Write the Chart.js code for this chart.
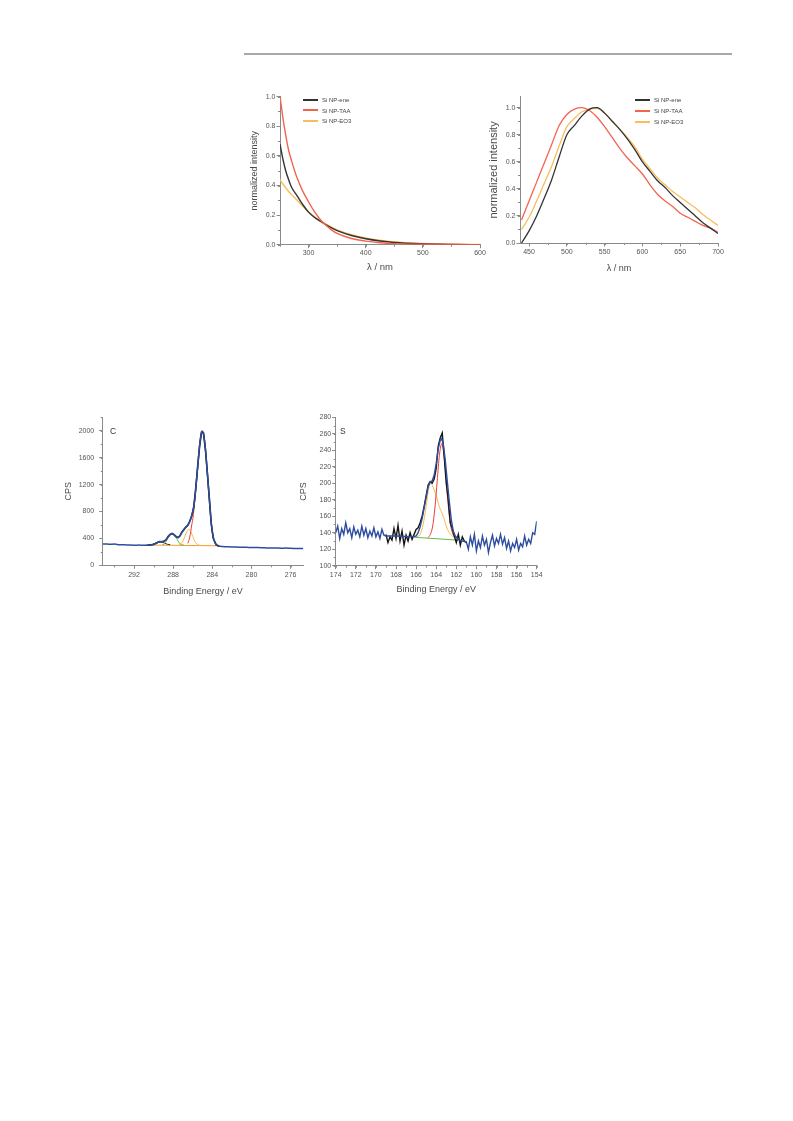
<!DOCTYPE html>
<html>
<head>
<meta charset="utf-8">
<script src="https://cdn.jsdelivr.net/npm/chart.js@4.4.1/dist/chart.umd.min.js"></script>
<style>
  body { margin: 0; background: #fff; width: 793px; height: 1121px; position: relative; overflow: hidden;
         font-family: 'Liberation Sans', Arial, sans-serif; }
  .panel { position: absolute; }
  .rule { position: absolute; left: 244px; top: 53px; width: 488px; height: 2px; background: #a9a9a9; }
  .lg { position: absolute; font-size: 6px; line-height: 10px; color: #444; white-space: nowrap; z-index: 5; }
  .lg .sw { display: inline-block; width: 15px; height: 2px; vertical-align: middle; margin-right: 4px; position: relative; top: -0.5px; }
  .tag { position: absolute; font-size: 8.5px; line-height: 10px; color: #333; z-index: 5; }
</style>
</head>
<body>
<div class="rule"></div>
<div class="panel" id="absBox"><canvas id="absChart"></canvas></div>
<div class="panel" id="plBox"><canvas id="plChart"></canvas></div>
<div class="panel" id="cBox"><canvas id="cChart"></canvas></div>
<div class="panel" id="sBox"><canvas id="sChart"></canvas></div>
<div class="tag" style="left:110px;top:425.5px">C</div>
<div class="tag" style="left:340px;top:425.5px">S</div>

<script>
const seriesNames = ['Si NP-ene', 'Si NP-TAA', 'Si NP-EO3'];
const seriesColors = ['#333333', '#f26450', '#f9bd5c'];

// --- absorption (top left) ---
const absXTicks = [300, 400, 500, 600];
const absYTicks = [0, 0.2, 0.4, 0.6, 0.8, 1.0];
const absWl  = [250, 255, 260, 265, 270, 280, 290, 300, 310, 320, 330, 340, 350, 375, 400, 425, 450, 500, 550, 600];
const absEne = [0.68, 0.58, 0.50, 0.44, 0.39, 0.33, 0.27, 0.22, 0.185, 0.16, 0.135, 0.113, 0.095, 0.062, 0.04, 0.025, 0.015, 0.006, 0.002, 0];
const absTaa = [1.0, 0.86, 0.74, 0.64, 0.57, 0.45, 0.36, 0.29, 0.225, 0.172, 0.133, 0.1, 0.076, 0.042, 0.024, 0.013, 0.007, 0.003, 0.001, 0];
const absEo3 = [0.44, 0.41, 0.385, 0.36, 0.34, 0.30, 0.26, 0.22, 0.19, 0.163, 0.14, 0.118, 0.1, 0.068, 0.045, 0.03, 0.018, 0.008, 0.003, 0.001];

// --- photoluminescence (top right) ---
const plXTicks = [450, 500, 550, 600, 650, 700];
const plYTicks = [0, 0.2, 0.4, 0.6, 0.8, 1.0];
const plWl  = [440, 450, 460, 470, 480, 490, 500, 510, 520, 530, 540, 550, 560, 570, 580, 590, 600, 610, 620, 630, 640, 650, 660, 670, 680, 690, 700];
const plEne = [0.0, 0.09, 0.2, 0.33, 0.47, 0.64, 0.8, 0.87, 0.94, 0.99, 1.0, 0.96, 0.9, 0.84, 0.77, 0.69, 0.6, 0.53, 0.46, 0.41, 0.35, 0.3, 0.25, 0.2, 0.15, 0.11, 0.07];
const plTaa = [0.17, 0.31, 0.45, 0.59, 0.73, 0.87, 0.95, 0.99, 1.0, 0.98, 0.93, 0.86, 0.78, 0.7, 0.63, 0.57, 0.51, 0.43, 0.36, 0.31, 0.27, 0.22, 0.19, 0.16, 0.13, 0.11, 0.08];
const plEo3 = [0.1, 0.19, 0.31, 0.44, 0.57, 0.72, 0.86, 0.92, 0.97, 0.99, 0.995, 0.96, 0.9, 0.84, 0.78, 0.71, 0.62, 0.55, 0.48, 0.43, 0.38, 0.34, 0.3, 0.26, 0.21, 0.17, 0.13];

// --- XPS C 1s (bottom left) ---
const cXTicks = [292, 288, 284, 280, 276];
const cYTicks = [0, 400, 800, 1200, 1600, 2000];
const cEnvBe = [295.2, 295, 294.5, 294, 293.5, 293, 292.5, 292, 291.5, 291, 290.5, 290, 289.7, 289.4, 289.1, 288.9, 288.7, 288.5, 288.3, 288.1,
                287.9, 287.7, 287.5, 287.3, 287.1, 286.9, 286.7, 286.5, 286.3, 286.1, 285.95, 285.8, 285.65, 285.5, 285.35, 285.2, 285.05, 284.9, 284.75, 284.6,
                284.45, 284.3, 284.15, 284.0, 283.85, 283.7, 283.5, 283.2, 283, 282.5, 282, 281.5, 281, 280.5, 280, 279.5, 279, 278.5,
                278, 277.5, 277, 276.5, 276, 275.5, 275, 274.7];
const cEnv   = [316, 318, 312, 315, 307, 305, 301, 298, 300, 297, 300, 308, 330, 350, 352, 360, 385, 425, 460, 470,
                455, 428, 415, 440, 490, 535, 565, 600, 650, 740, 830, 970, 1200, 1450, 1700, 1900, 1995, 1960, 1800, 1550,
                1270, 980, 700, 500, 390, 330, 295, 282, 279, 276, 272, 271, 268, 267, 264, 263, 262, 259,
                256, 257, 254, 256, 252, 251, 250, 249];
const cDataBe = [290.6, 290.3, 290.0, 289.7, 289.4, 289.1, 288.9, 288.7, 288.5, 288.3, 288.1, 287.9, 287.7, 287.5, 287.3, 287.1, 286.9,
                 286.7, 286.5, 286.3, 286.1, 285.9, 285.7, 285.5, 285.3, 285.1, 284.9, 284.7, 284.5, 284.3, 284.1, 283.9, 283.6, 283.3];
const cData   = [300, 304, 310, 332, 352, 350, 362, 383, 430, 458, 474, 452, 425, 412, 438, 495, 530,
                 568, 596, 655, 735, 860, 1130, 1460, 1770, 1975, 1965, 1720, 1360, 990, 610, 400, 305, 284];
const cRedBe = [286.5, 286.3, 286.1, 285.98, 285.8, 285.65, 285.5, 285.35, 285.2, 285.05, 284.9, 284.75, 284.6, 284.45, 284.3, 284.15, 284.0, 283.85, 283.7, 283.5];
const cRed   = [327, 420, 600, 700, 950, 1190, 1440, 1690, 1890, 1990, 1955, 1795, 1545, 1265, 975, 695, 495, 385, 325, 300];
const cOrgBe = [287.4, 287.2, 287.0, 286.8, 286.6, 286.4, 286.2, 286.0, 285.8, 285.6, 285.4, 285.2];
const cOrg   = [302, 318, 360, 430, 500, 535, 500, 430, 360, 318, 302, 298];
const cGrnBe = [289.1, 288.9, 288.7, 288.5, 288.3, 288.1, 287.9, 287.7, 287.5, 287.3, 287.1, 286.9];
const cGrn   = [302, 318, 360, 415, 455, 468, 455, 415, 360, 318, 303, 300];
const cDrkBe = [290.4, 290.1, 289.8, 289.6, 289.35, 289.1, 288.9, 288.6, 288.3];
const cDrk   = [306, 313, 330, 343, 350, 343, 330, 313, 306];
const cBgBe  = [290.8, 283.4];
const cBg    = [302, 290];

// --- XPS S 2p (bottom right) ---
const sXTicks = [174, 172, 170, 168, 166, 164, 162, 160, 158, 156, 154];
const sYTicks = [100, 120, 140, 160, 180, 200, 220, 240, 260, 280];
const sLeftBe = [174.0, 173.8, 173.6, 173.4, 173.2, 173.0, 172.8, 172.6, 172.4, 172.2, 172.0, 171.8, 171.6, 171.4, 171.2, 171.0,
                 170.8, 170.6, 170.4, 170.2, 170.0, 169.8, 169.6, 169.4, 169.2];
const sLeft   = [140, 148, 133, 145, 138, 152, 140, 145, 134, 147, 138, 143, 135, 148, 137, 145,
                 134, 142, 136, 146, 135, 141, 133, 144, 137];
const sFitBe  = [169, 168, 167, 166.5, 166, 165.8, 165.6, 165.4, 165.2, 165.0, 164.8, 164.6, 164.4, 164.2, 164.0, 163.8, 163.6, 163.45,
                 163.3, 163.1, 162.9, 162.7, 162.5, 162.3, 162.1, 161.8, 161.4, 161];
const sFit    = [136, 136, 135.5, 135, 136, 140, 147, 157, 170, 183, 196, 201, 203, 210, 224, 242, 252, 254,
                 248, 228, 203, 178, 156, 142, 136, 132, 130, 129];
const sRightBe = [160.8, 160.6, 160.4, 160.2, 160.0, 159.8, 159.6, 159.4, 159.2, 159.0, 158.8, 158.6, 158.4, 158.2, 158.0, 157.8, 157.6, 157.4,
                  157.2, 157.0, 156.8, 156.6, 156.4, 156.2, 156.0, 155.8, 155.6, 155.4, 155.2, 155.0, 154.8, 154.6, 154.4, 154.2, 154.0];
const sRight   = [120, 135, 125, 138, 118, 130, 122, 136, 125, 132, 116, 128, 137, 124, 133, 127, 138, 126,
                  134, 121, 130, 118, 127, 122, 132, 119, 127, 123, 136, 125, 132, 127, 140, 138, 154];
const sDataBe = [169.0, 168.8, 168.6, 168.4, 168.2, 168.0, 167.8, 167.6, 167.4, 167.2, 167.0, 166.8, 166.6, 166.4, 166.2, 166.0, 165.8, 165.6,
                 165.4, 165.2, 165.0, 164.8, 164.6, 164.4, 164.2, 164.0, 163.8, 163.6, 163.4, 163.2, 163.0, 162.8, 162.6, 162.4, 162.2, 162.0,
                 161.8, 161.6, 161.4, 161.2, 161.0];
const sData   = [138, 128, 135, 131, 145, 133, 149, 130, 142, 125, 137, 130, 140, 132, 138, 144, 146, 152,
                 160, 172, 185, 198, 202, 200, 205, 218, 245, 255, 261, 232, 200, 180, 152, 145, 136, 128,
                 138, 125, 135, 130, 128];
const sOrgBe = [165.9, 165.6, 165.3, 165.0, 164.8, 164.55, 164.3, 164.0, 163.7, 163.3, 163.0, 162.7, 162.4, 162.1];
const sOrg   = [135, 138, 150, 172, 190, 200, 195, 185, 172, 160, 148, 140, 136, 134];
const sRedBe = [164.8, 164.58, 164.35, 164.13, 163.9, 163.68, 163.45, 163.23, 163.0, 162.78, 162.55, 162.33, 162.1];
const sRed   = [134, 138, 148, 170, 203, 234, 248, 234, 203, 170, 148, 138, 134];
const sBgBe  = [166.2, 161.8];
const sBg    = [134.5, 131];

const FONT = "'Liberation Sans', Arial, sans-serif";
const AXIS = '#8a8a8a';
const TXT = '#555555';
const BLUE = '#2d4d9e';

function pts(xs, ys) {
    return xs.map((x, i) => ({ x: x, y: ys[i] }));
}

function line(label, xs, ys, color, width, order, smooth) {
    return {
        label: label, data: pts(xs, ys), borderColor: color, borderWidth: width,
        pointRadius: 0, fill: false, order: order, tension: 0,
        cubicInterpolationMode: smooth ? 'monotone' : 'default'
    };
}

// small ticks between the labelled ones
const minorTicks = {
    id: 'minorTicks',
    afterDraw(chart, args, opts) {
        const ctx = chart.ctx;
        ['x', 'y'].forEach(id => {
            const s = chart.scales[id];
            const step = opts[id];
            if (!step) return;
            ctx.save();
            ctx.strokeStyle = AXIS;
            ctx.lineWidth = 1;
            ctx.beginPath();
            const k0 = Math.ceil(s.min / step - 1e-6), k1 = Math.floor(s.max / step + 1e-6);
            for (let k = k0; k <= k1; k++) {
                const p = Math.round(s.getPixelForValue(k * step)) + 0.5;
                if (id === 'x') { ctx.moveTo(p, s.top); ctx.lineTo(p, s.top + 2); }
                else { ctx.moveTo(s.right, p); ctx.lineTo(s.right - 2, p); }
            }
            ctx.stroke();
            ctx.restore();
        });
    }
};

function axis(o) {
    return {
        type: 'linear', min: o.min, max: o.max, reverse: !!o.reverse,
        border: { display: true, color: AXIS, width: 1 },
        grid: { drawOnChartArea: false, drawTicks: true, tickLength: 3.5, color: AXIS },
        ticks: {
            autoSkip: false, maxRotation: 0, padding: o.pad,
            color: TXT, font: { size: 7, family: FONT },
            callback: v => o.fmt ? o.fmt(v) : String(v)
        },
        title: { display: true, text: o.title, color: '#4a4a4a', padding: 0, font: { size: o.titleSize, family: FONT } },
        afterBuildTicks: s => { s.ticks = o.ticks.map(v => ({ value: v })); },
        afterFit: s => { if (s.isHorizontal()) s.height = o.size; else s.width = o.size; }
    };
}

function makeChart(canvasId, boxId, frame, datasets, xo, yo, minor) {
    const box = document.getElementById(boxId);
    box.style.left = frame.left + 'px';
    box.style.top = frame.top + 'px';
    box.style.width = frame.width + 'px';
    box.style.height = frame.height + 'px';
    return new Chart(document.getElementById(canvasId), {
        type: 'line',
        data: { datasets: datasets },
        options: {
            animation: false, responsive: true, maintainAspectRatio: false,
            layout: { autoPadding: false, padding: frame.pad },
            plugins: { legend: { display: false }, tooltip: { enabled: false }, minorTicks: minor },
            scales: { x: axis(xo), y: axis(yo) }
        },
        plugins: [minorTicks]
    });
}

function legend(left, top, gap) {
    seriesNames.forEach((n, i) => {
        const d = document.createElement('div');
        d.className = 'lg';
        d.style.left = left + 'px';
        d.style.top = (top + i * gap - 5) + 'px';
        d.innerHTML = `<span class="sw" style="background:${seriesColors[i]}"></span>${n}`;
        document.body.appendChild(d);
    });
}

const fmt1 = v => v.toFixed(1);

makeChart('absChart', 'absBox',
    { left: 244, top: 86, width: 248, height: 192, pad: { left: 5.6, top: 10.7, right: 12, bottom: 4.6 } },
    [
        line(seriesNames[1], absWl, absTaa, seriesColors[1], 1.4, 0, true),
        line(seriesNames[0], absWl, absEne, seriesColors[0], 1.4, 1, true),
        line(seriesNames[2], absWl, absEo3, seriesColors[2], 1.4, 2, true)
    ],
    { min: 250, max: 600, ticks: absXTicks, pad: 1, title: 'λ / nm', titleSize: 9.5, size: 28.7 },
    { min: 0, max: 1.0, ticks: absYTicks, pad: 1, fmt: fmt1, title: 'normalized intensity', titleSize: 9, size: 30.4 },
    { x: 50, y: 0.1 });

makeChart('plChart', 'plBox',
    { left: 482, top: 86, width: 258, height: 192, pad: { left: 5.4, top: 10.9, right: 22, bottom: 4.3 } },
    [
        line(seriesNames[0], plWl, plEne, seriesColors[0], 1.3, 0, true),
        line(seriesNames[1], plWl, plTaa, seriesColors[1], 1.3, 1, true),
        line(seriesNames[2], plWl, plEo3, seriesColors[2], 1.3, 2, true)
    ],
    { min: 438, max: 700, ticks: plXTicks, pad: 1, title: 'λ / nm', titleSize: 9, size: 30.7 },
    { min: 0, max: 1.08, ticks: plYTicks, pad: 1, fmt: fmt1, title: 'normalized intensity', titleSize: 11, size: 32.6 },
    { x: 25, y: 0.1 });

makeChart('cChart', 'cBox',
    { left: 58, top: 405, width: 257, height: 197, pad: { left: 4.9, top: 12.3, right: 11.7, bottom: 4.9 } },
    [
        line('envelope', cEnvBe, cEnv, BLUE, 1.5, 0, true),
        line('data', cDataBe, cData, '#151515', 1.6, 1, false),
        line('C-C', cRedBe, cRed, '#ee3d33', 1, 2, true),
        line('C-O', cOrgBe, cOrg, '#f8b84c', 1, 3, true),
        line('C=O', cGrnBe, cGrn, '#62b946', 1, 4, true),
        line('O-C=O', cDrkBe, cDrk, '#5b1f24', 1, 5, true),
        line('background', cBgBe, cBg, '#f39a2e', 1, 6, false)
    ],
    { min: 274.7, max: 295.2, ticks: cXTicks, reverse: true, pad: 2, title: 'Binding Energy / eV', titleSize: 9, size: 31.8 },
    { min: 0, max: 2200, ticks: cYTicks, pad: 5, title: 'CPS', titleSize: 9, size: 39.8 },
    { x: 2, y: 200 });

makeChart('sChart', 'sBox',
    { left: 293, top: 405, width: 255, height: 197, pad: { left: 4.9, top: 12.3, right: 11.3, bottom: 6.6 } },
    [
        line('envelope', sLeftBe.concat(sFitBe, sRightBe), sLeft.concat(sFit, sRight), BLUE, 1.4, 0, false),
        line('data', sDataBe, sData, '#151515', 1.4, 1, false),
        line('S 2p3/2', sRedBe, sRed, '#ee3d33', 1, 2, true),
        line('S 2p1/2', sOrgBe, sOrg, '#f8b84c', 1, 3, true),
        line('background', sBgBe, sBg, '#62b946', 1, 4, false)
    ],
    { min: 154, max: 174, ticks: sXTicks, reverse: true, pad: 2, title: 'Binding Energy / eV', titleSize: 9, size: 29.7 },
    { min: 100, max: 280, ticks: sYTicks, pad: 1, title: 'CPS', titleSize: 9, size: 37.8 },
    { x: 1, y: 10 });

legend(303, 100, 10.5);
legend(635, 100, 10.8);
</script>
</body>
</html>
